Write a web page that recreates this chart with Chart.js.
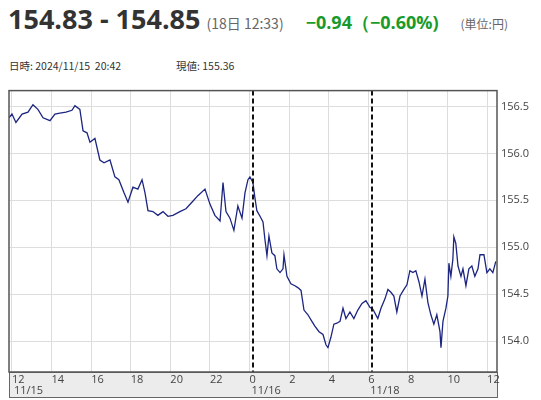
<!DOCTYPE html>
<html>
<head>
<meta charset="utf-8">
<script src="https://cdn.jsdelivr.net/npm/chart.js@4.4.1/dist/chart.umd.min.js"></script>
<style>
  body { margin: 0; width: 541px; height: 400px; background: #fff; font-family: "Noto Sans CJK JP", "Open Sans", sans-serif; position: relative; overflow: hidden; }
  .hd { position: absolute; left: 8px; top: 0px; white-space: nowrap; }
  .price { font-family: "Open Sans", sans-serif; font-weight: bold; font-size: 27px; color: #333; }
  .time { font-size: 14px; color: #666; margin-left: 6px; }
  .chg { font-family: "Open Sans", sans-serif; font-weight: bold; font-size: 18px; color: #1a9a2a; margin-left: 22px; }
  .unit { font-size: 12px; color: #666; margin-left: 22px; }
  .info { position: absolute; top: 58px; font-size: 10.5px; color: #333; }
  #wrap { position: absolute; left: 0; top: 80px; width: 541px; height: 318px; }
</style>
</head>
<body>
<div class="hd"><span class="price">154.83 - 154.85</span><span class="time">(18日 12:33)</span><span class="chg">−0.94（−0.60%)</span><span class="unit">(単位:円)</span></div>
<div class="info" style="left:9px">日時: 2024/11/15&nbsp;&nbsp;20:42</div>
<div class="info" style="left:176px">現値: 155.36</div>
<div id="wrap"><canvas id="c"></canvas></div>
<script>
// hours since 11/15 12:00 (weekend gap removed)
const hours = [-0.15,0,0.2,0.51,0.81,1.06,1.31,1.57,1.92,2.17,2.42,2.73,3.03,3.18,3.43,3.59,3.79,3.94,4.19,4.44,4.65,4.95,5.2,5.4,5.66,5.86,6.11,6.36,6.57,6.72,6.87,7.12,7.37,7.63,7.88,8.13,8.48,8.79,9.09,9.39,9.75,10,10.25,10.51,10.66,10.81,11.01,11.21,11.41,11.62,11.77,11.92,12.02,12.17,12.27,12.37,12.53,12.68,12.78,12.88,12.98,13.13,13.28,13.38,13.54,13.69,13.74,13.89,14.09,14.29,14.44,14.6,14.75,14.95,15.15,15.3,15.51,15.71,15.86,15.96,16.11,16.26,16.41,16.57,16.72,16.87,17.07,17.27,17.47,17.68,17.88,18.08,18.23,18.48,18.64,18.84,18.99,19.14,19.29,19.44,19.6,19.8,19.95,20.1,20.25,20.4,20.56,20.71,20.86,21.01,21.16,21.31,21.46,21.62,21.67,21.77,21.92,22.02,22.07,22.17,22.27,22.32,22.42,22.53,22.68,22.78,22.93,23.08,23.23,23.38,23.54,23.64,23.84,23.99,24.14,24.29,24.44];
const rates = [156.38,156.42,156.33,156.42,156.44,156.52,156.47,156.38,156.35,156.42,156.43,156.44,156.46,156.51,156.47,156.24,156.22,156.12,156.16,155.93,155.9,155.93,155.75,155.72,155.58,155.48,155.64,155.62,155.72,155.58,155.39,155.38,155.34,155.38,155.33,155.34,155.38,155.41,155.48,155.55,155.62,155.46,155.34,155.28,155.69,155.38,155.31,155.18,155.44,155.31,155.58,155.72,155.75,155.69,155.53,155.39,155.33,155.27,155.08,154.91,155.12,154.94,154.91,154.77,154.73,154.77,154.92,154.69,154.61,154.59,154.57,154.54,154.33,154.28,154.21,154.16,154.1,154.07,153.96,153.93,154.04,154.18,154.19,154.21,154.35,154.24,154.31,154.24,154.33,154.4,154.43,154.36,154.34,154.24,154.35,154.45,154.55,154.52,154.48,154.31,154.48,154.55,154.6,154.75,154.73,154.75,154.63,154.48,154.66,154.41,154.28,154.18,154.28,154.1,153.93,154.21,154.35,154.48,154.83,154.69,154.87,155.11,155.04,154.8,154.69,154.77,154.59,154.77,154.8,154.69,154.77,154.92,154.92,154.73,154.77,154.73,154.85];
const dayBreaks = [12.17, 18.2];
const dateLabels = [[0, "11/15"], [12, "11/16"], [18, "11/18"]];
const yTicks = [154, 154.5, 155, 155.5, 156, 156.5];

const hourLabel = (i) => (i <= 18 ? (12 + i) % 24 : i - 12);

const frame = {
  id: "frame",
  beforeDraw(chart) {
    const { ctx, chartArea: a } = chart;
    ctx.save();
    ctx.fillStyle = "#ececec";
    ctx.fillRect(a.left, a.bottom, a.right - a.left, 26);
    ctx.strokeStyle = "#666";
    ctx.lineWidth = 1;
    ctx.strokeRect(a.left + 0.5, a.bottom + 0.5, a.right - a.left, 25);
    ctx.restore();
  },
  afterDatasetsDraw(chart) {
    const { ctx, chartArea: a, scales } = chart;
    ctx.save();
    ctx.strokeStyle = "#111";
    ctx.lineWidth = 2;
    ctx.setLineDash([5, 3]);
    dayBreaks.forEach((b) => {
      const x = Math.round(scales.x.getPixelForValue(b));
      ctx.beginPath();
      ctx.moveTo(x, a.top);
      ctx.lineTo(x, a.bottom);
      ctx.stroke();
    });
    ctx.setLineDash([]);
    ctx.strokeStyle = "#555";
    ctx.lineWidth = 1.5;
    ctx.strokeRect(a.left, a.top, a.right - a.left, a.bottom - a.top);
    ctx.fillStyle = "#444";
    ctx.font = "11px 'Open Sans', sans-serif";
    ctx.textBaseline = "top";
    dateLabels.forEach(([h, t]) => {
      ctx.fillText(t, scales.x.getPixelForValue(h) + 2, a.bottom + 13);
    });
    ctx.restore();
  },
};

new Chart(document.getElementById("c"), {
  type: "line",
  data: {
    datasets: [
      {
        data: hours.map((h, i) => ({ x: h, y: rates[i] })),
        borderColor: "#1c2580",
        borderWidth: 1.3,
        pointRadius: 0,
        tension: 0,
      },
    ],
  },
  options: {
    animation: false,
    responsive: true,
    maintainAspectRatio: false,
    layout: { padding: { left: 9, top: 1, right: 0, bottom: 0 } },
    plugins: { legend: { display: false }, tooltip: { enabled: false } },
    scales: {
      x: {
        type: "linear",
        min: -0.15,
        max: 24.5,
        afterFit: (s) => { s.height = 26; },
        afterBuildTicks: (s) => {
          s.ticks = [0, 2, 4, 6, 8, 10, 12, 14, 16, 18, 20, 22, 24].map((v) => ({ value: v }));
        },
        grid: { color: "#dddddd", drawTicks: false },
        border: { display: false },
        ticks: {
          callback: (v) => hourLabel(v),
          color: "#444",
          font: { size: 11, family: "'Open Sans', sans-serif" },
          maxRotation: 0,
          autoSkip: false,
          padding: 1,
          align: "start",
        },
      },
      y: {
        position: "right",
        min: 153.67,
        max: 156.67,
        afterFit: (s) => { s.width = 44; },
        afterBuildTicks: (s) => { s.ticks = yTicks.map((v) => ({ value: v })); },
        grid: { color: "#dddddd", drawTicks: false },
        border: { display: false },
        ticks: {
          color: "#444",
          font: { size: 11, family: "'Open Sans', sans-serif" },
          padding: 4,
        },
      },
    },
  },
  plugins: [frame],
});
</script>
</body>
</html>
